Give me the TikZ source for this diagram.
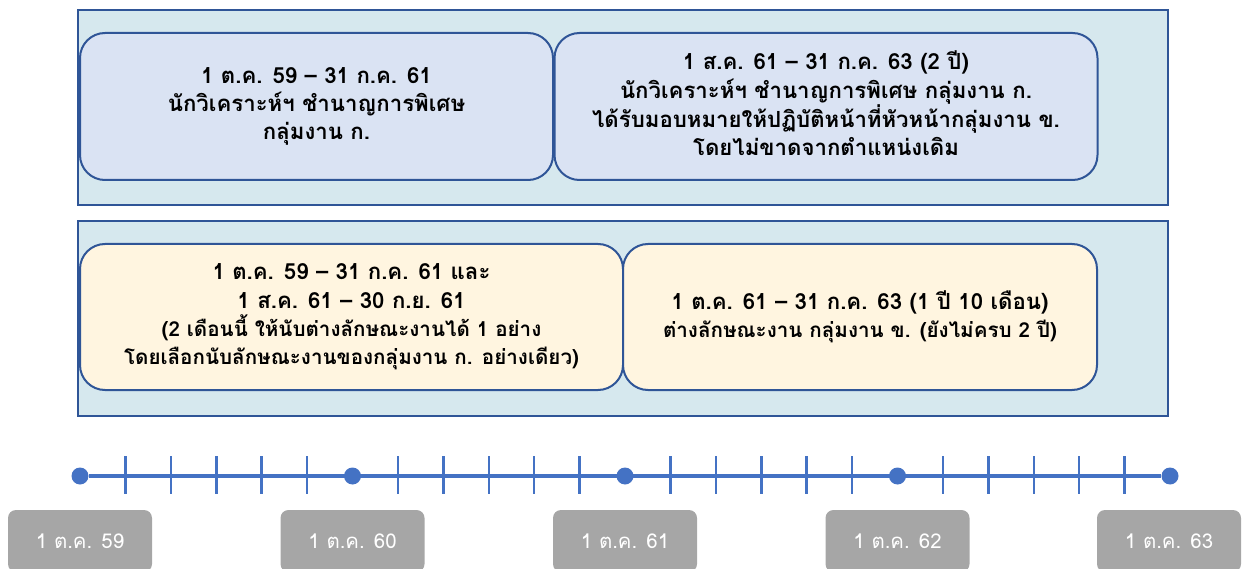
\documentclass[tikz,border=0pt]{standalone}
\usepackage{fontspec}
\setmainfont{Loma}[Script=Thai]
\newfontfamily\thaifont[Script=Thai,Ligatures=TeX]{Loma}
\definecolor{outerfill}{RGB}{214,232,238}
\definecolor{outerdraw}{RGB}{47,85,151}
\definecolor{topfill}{RGB}{218,227,243}
\definecolor{botfill}{RGB}{255,245,224}
\definecolor{linecol}{RGB}{68,114,196}
\definecolor{labfill}{RGB}{166,166,166}
\newcommand{\bigf}{\thaifont\bfseries\fontsize{22.2}{28.3}\selectfont}
\newcommand{\smallf}{\thaifont\bfseries\fontsize{20.6}{26.5}\selectfont}
\newcommand{\labf}{\thaifont\fontsize{20.4}{24}\selectfont}
\begin{document}
\begin{tikzpicture}[x=1pt,y=-1pt,
  outerbox/.style={draw=outerdraw, fill=outerfill, line width=1.5pt, inner sep=0pt},
  card/.style={draw=outerdraw, line width=2pt, rounded corners=25pt, inner sep=0pt, align=center, font=\bigf, text=black},
  topcard/.style={card, fill=topfill, minimum height=147pt},
  botcard/.style={card, fill=botfill, minimum height=146pt},
  tline/.style={draw=linecol, line width=4pt},
  tickmark/.style={draw=linecol, line width=2.5pt},
  dot/.style={circle, fill=linecol, minimum size=17pt, inner sep=0pt},
  datelab/.style={fill=labfill, rounded corners=8pt, minimum width=144pt, minimum height=62pt, inner sep=0pt, text=white, font=\labf}
]
\useasboundingbox (0,0) rectangle (1244,569);
% outer panels
\node[outerbox, minimum width=1090pt, minimum height=195pt] (o1) at (623,107.5) {};
\node[outerbox, minimum width=1090pt, minimum height=195pt] (o2) at (623,318.5) {};
% top cards
\node[topcard, minimum width=473pt] (a) at (316.5,106.5) {1 ต.ค. 59 – 31 ก.ค. 61\\นักวิเคราะห์ฯ ชำนาญการพิเศษ\\กลุ่มงาน ก.};
\node[topcard, minimum width=543pt] (b) at (826,106.5) {};
\node[align=center, font=\bigf, inner sep=0pt] (bt) at ([yshift=3pt]b.center) {1 ส.ค. 61 – 31 ก.ค. 63 (2 ปี)\\นักวิเคราะห์ฯ ชำนาญการพิเศษ กลุ่มงาน ก.\\ได้รับมอบหมายให้ปฏิบัติหน้าที่หัวหน้ากลุ่มงาน ข.\\โดยไม่ขาดจากตำแหน่งเดิม};
% bottom cards
\node[botcard, minimum width=543pt] (c) at (351.5,317) {1 ต.ค. 59 – 31 ก.ค. 61 และ\\1 ส.ค. 61 – 30 ก.ย. 61\\{\smallf (2 เดือนนี้ ให้นับต่างลักษณะงานได้ 1 อย่าง}\\{\smallf โดยเลือกนับลักษณะงานของกลุ่มงาน ก. อย่างเดียว)}};
\node[botcard, minimum width=474pt] (d) at (860,317) {1 ต.ค. 61 – 31 ก.ค. 63 (1 ปี 10 เดือน)\\{\smallf ต่างลักษณะงาน กลุ่มงาน ข. (ยังไม่ครบ 2 ปี)}};
% timeline
\node[dot] (d0) at (80,476) {};
\node[dot] (d1) at (352.5,476) {};
\node[dot] (d2) at (625,476) {};
\node[dot] (d3) at (897.5,476) {};
\node[dot] (d4) at (1170,476) {};
\draw[tline] (d0) -- (d4);
\foreach \i in {0,...,3}{
  \foreach \k in {1,...,5}{
    \pgfmathsetmacro{\xx}{80+(\i*6+\k)*45.4167}
    \draw[tickmark] (\xx,456) -- (\xx,494);
  }
}
% date labels
\node[datelab] (l0) at (80,541) {1 ต.ค. 59};
\node[datelab] (l1) at (352.5,541) {1 ต.ค. 60};
\node[datelab] (l2) at (625,541) {1 ต.ค. 61};
\node[datelab] (l3) at (897.5,541) {1 ต.ค. 62};
\node[datelab] (l4) at (1169,541) {1 ต.ค. 63};
\end{tikzpicture}
\end{document}
